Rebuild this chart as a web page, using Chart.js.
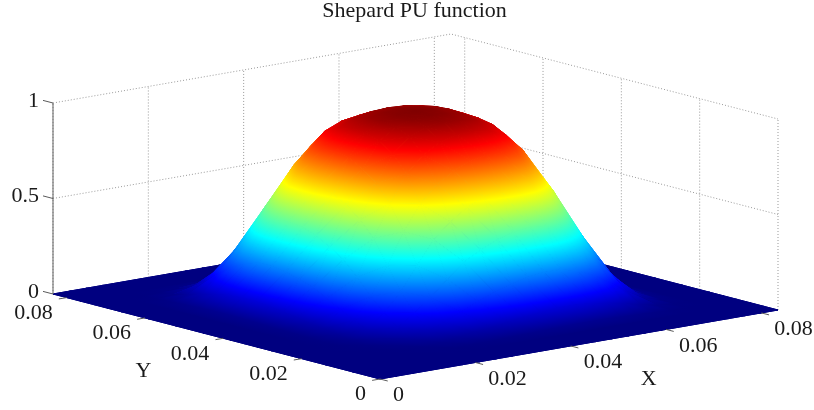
<!DOCTYPE html>
<html>
<head>
<meta charset="utf-8">
<style>
  html, body { margin: 0; padding: 0; background: #fff; }
  canvas { display: block; }
</style>
<script src="https://cdn.jsdelivr.net/npm/chart.js@4"></script>
</head>
<body>
<canvas id="surf" width="814" height="410"></canvas>
<script>
// axis ticks
var xTicks = [0, 0.02, 0.04, 0.06, 0.08];
var yTicks = [0, 0.02, 0.04, 0.06, 0.08];
var zTicks = [0, 0.5, 1];
var xTickLabels = ["0", "0.02", "0.04", "0.06", "0.08"];
var yTickLabels = ["0", "0.02", "0.04", "0.06", "0.08"];
var zTickLabels = ["0", "0.5", "1"];
var axisMax = 0.0835;

// surface nodes
var gridNodes = [0, 0.0035, 0.0070, 0.0104, 0.0139, 0.0174, 0.0209, 0.0244, 0.0278, 0.0313, 0.0348, 0.0383, 0.0418,
                 0.0452, 0.0487, 0.0522, 0.0557, 0.0592, 0.0626, 0.0661, 0.0696, 0.0731, 0.0766, 0.0800, 0.0835];
var zGrid = [
 [0,0,0,0,0,0,0,0,0,0,0,0,0,0,0,0,0,0,0,0,0,0,0,0,0],
 [0,0,0,0,0,0,0,0,0,0,0,0,0,0,0,0,0,0,0,0,0,0,0,0,0],
 [0,0,0,0,0,0,0,0,0,0,0,0,0,0,0,0,0,0,0,0,0,0,0,0,0],
 [0,0,0,0,0,0,.001,.001,.003,.005,.007,.009,.012,.014,.016,.016,.016,.013,.01,.006,.002,0,0,0,0],
 [0,0,0,0,0,.001,.004,.012,.023,.035,.045,.059,.071,.08,.086,.087,.081,.068,.05,.028,.01,.002,0,0,0],
 [0,0,0,0,.001,.006,.024,.053,.087,.122,.162,.199,.224,.244,.255,.255,.233,.193,.14,.078,.028,.006,0,0,0],
 [0,0,0,.001,.004,.024,.068,.128,.195,.277,.35,.398,.438,.463,.475,.465,.42,.345,.25,.14,.05,.01,0,0,0],
 [0,0,0,.001,.012,.053,.128,.221,.342,.463,.541,.602,.642,.666,.669,.649,.58,.476,.345,.193,.069,.014,0,0,0],
 [0,0,0,.003,.023,.087,.195,.342,.504,.632,.721,.777,.815,.828,.823,.79,.706,.58,.42,.235,.084,.017,0,0,0],
 [0,0,0,.005,.035,.122,.277,.463,.632,.774,.857,.907,.931,.935,.921,.884,.79,.649,.47,.263,.094,.019,0,0,0],
 [0,0,0,.007,.045,.162,.35,.541,.721,.857,.932,.965,.98,.975,.96,.921,.823,.676,.49,.274,.098,.02,0,0,0],
 [0,0,0,.009,.059,.199,.398,.602,.777,.907,.965,.99,.995,.99,.975,.935,.836,.687,.498,.279,.1,.02,0,0,0],
 [0,0,0,.012,.071,.224,.438,.642,.815,.931,.98,.995,1,.995,.98,.94,.84,.69,.5,.28,.1,.02,0,0,0],
 [0,0,0,.014,.08,.244,.463,.666,.828,.935,.975,.99,.995,.99,.975,.935,.836,.687,.498,.279,.1,.02,0,0,0],
 [0,0,0,.016,.086,.255,.475,.669,.823,.921,.96,.975,.98,.975,.96,.921,.823,.676,.49,.274,.098,.02,0,0,0],
 [0,0,0,.016,.087,.255,.465,.649,.79,.884,.921,.935,.94,.935,.921,.884,.79,.649,.47,.263,.094,.019,0,0,0],
 [0,0,0,.016,.081,.233,.42,.58,.706,.79,.823,.836,.84,.836,.823,.79,.706,.58,.42,.235,.084,.017,0,0,0],
 [0,0,0,.013,.068,.193,.345,.476,.58,.649,.676,.687,.69,.687,.676,.649,.58,.476,.345,.193,.069,.014,0,0,0],
 [0,0,0,.01,.05,.14,.25,.345,.42,.47,.49,.498,.5,.498,.49,.47,.42,.345,.25,.14,.05,.01,0,0,0],
 [0,0,0,.006,.028,.078,.14,.193,.235,.263,.274,.279,.28,.279,.274,.263,.235,.193,.14,.078,.028,.006,0,0,0],
 [0,0,0,.002,.01,.028,.05,.069,.084,.094,.098,.1,.1,.1,.098,.094,.084,.069,.05,.028,.01,.002,0,0,0],
 [0,0,0,0,.002,.006,.01,.014,.017,.019,.02,.02,.02,.02,.02,.019,.017,.014,.01,.006,.002,0,0,0,0],
 [0,0,0,0,0,0,0,0,0,0,0,0,0,0,0,0,0,0,0,0,0,0,0,0,0],
 [0,0,0,0,0,0,0,0,0,0,0,0,0,0,0,0,0,0,0,0,0,0,0,0,0],
 [0,0,0,0,0,0,0,0,0,0,0,0,0,0,0,0,0,0,0,0,0,0,0,0,0]
];

// jet colormap
var jetStops = [0, 0.125, 0.375, 0.625, 0.875, 1];
var jetColors = [[0,0,128], [0,0,255], [0,255,255], [255,255,0], [255,0,0], [128,0,0]];

// view of the box: where the origin sits and how each axis runs on the page
var titleH = 22, leftPad = 15;
var view = { ox: 380, oy: 379, xx: 398, xy: -69, yx: -327, yy: -85, zy: -191 };
var serif = '"Liberation Serif", "Times New Roman", serif';

function proj(x, y, z) {
    var a = x / axisMax, b = y / axisMax;
    return {
        x: view.ox + a * view.xx + b * view.yx,
        y: view.oy + a * view.xy + b * view.yy + z * view.zy
    };
}

function jet(z) {
    for (var i = 1; i < jetStops.length; i++) {
        if (z <= jetStops[i]) {
            var f = (z - jetStops[i - 1]) / (jetStops[i] - jetStops[i - 1]);
            var a = jetColors[i - 1], b = jetColors[i];
            return 'rgb(' + Math.round(a[0] + f * (b[0] - a[0])) + ',' + Math.round(a[1] + f * (b[1] - a[1])) + ',' + Math.round(a[2] + f * (b[2] - a[2])) + ')';
        }
    }
    return 'rgb(128,0,0)';
}

// z runs linearly over a triangle, so the colour is one straight gradient
function triPaint(ds, chart) {
    var sx = chart.scales.x, sy = chart.scales.y;
    var p = ds.data.slice(0, 3).map(function (d) { return [sx.getPixelForValue(d.x), sy.getPixelForValue(d.y)]; });
    var z = ds.zs;
    var det = (p[1][0] - p[0][0]) * (p[2][1] - p[0][1]) - (p[2][0] - p[0][0]) * (p[1][1] - p[0][1]);
    var gx = ((z[1] - z[0]) * (p[2][1] - p[0][1]) - (z[2] - z[0]) * (p[1][1] - p[0][1])) / det;
    var gy = ((p[1][0] - p[0][0]) * (z[2] - z[0]) - (p[2][0] - p[0][0]) * (z[1] - z[0])) / det;
    var g2 = gx * gx + gy * gy;
    var lo = Math.min(z[0], z[1], z[2]), hi = Math.max(z[0], z[1], z[2]);
    if (hi - lo < 0.0005 || !(g2 > 0)) return jet((lo + hi) / 2);
    var grad = chart.ctx.createLinearGradient(
        p[0][0] + gx * (lo - z[0]) / g2, p[0][1] + gy * (lo - z[0]) / g2,
        p[0][0] + gx * (hi - z[0]) / g2, p[0][1] + gy * (hi - z[0]) / g2);
    grad.addColorStop(0, jet(lo));
    jetStops.forEach(function (s) {
        if (s > lo && s < hi) grad.addColorStop((s - lo) / (hi - lo), jet(s));
    });
    grad.addColorStop(1, jet(hi));
    return grad;
}

function lineSet(points, color, dash, width) {
    return {
        data: points, showLine: true, fill: false, pointRadius: 0,
        borderColor: color, borderWidth: width || 1, borderDash: dash || [], tension: 0
    };
}

function triSet(a, b, c) {
    var n = gridNodes;
    return {
        data: [a, b, c, a].map(function (q) { return proj(n[q[0]], n[q[1]], zGrid[q[1]][q[0]]); }),
        zs: [a, b, c].map(function (q) { return zGrid[q[1]][q[0]]; }),
        isTri: true,
        showLine: true, fill: 'shape', pointRadius: 0, tension: 0,
        backgroundColor: '#000080', borderColor: '#000080', borderWidth: 1, borderJoinStyle: 'round'
    };
}

// Chart.js paints the last dataset first: axes up front, then surface, then walls
var datasets = [];
var axisCol = '#5a5a5a', gridCol = '#999999', dots = [1, 2];

// tick marks and solid axes
xTicks.forEach(function (t) {
    datasets.push(lineSet([proj(t, 0, 0), proj(t, -8 * axisMax / 338, 0)], axisCol));
});
yTicks.forEach(function (t) {
    datasets.push(lineSet([proj(0, t, 0), proj(-8 * axisMax / 404, t, 0)], axisCol));
});
zTicks.forEach(function (t) {
    datasets.push(lineSet([proj(0, axisMax, t), proj(0, axisMax + 10 * axisMax / 327, t)], axisCol));
});
datasets.push(lineSet([proj(0, axisMax, 0), proj(0, axisMax, 1)], '#777777', [], 1.2));

// surface, front cells first
for (var sum = 0; sum <= 2 * (gridNodes.length - 2); sum++) {
    for (var i = 0; i < gridNodes.length - 1; i++) {
        var j = sum - i;
        if (j < 0 || j >= gridNodes.length - 1) continue;
        datasets.push(triSet([i, j], [i + 1, j], [i, j + 1]));
        datasets.push(triSet([i + 1, j + 1], [i, j + 1], [i + 1, j]));
    }
}

// navy floor under the triangles so their seams do not let the white through
datasets.push({
    data: [proj(0, 0, 0), proj(axisMax, 0, 0), proj(axisMax, axisMax, 0), proj(0, axisMax, 0), proj(0, 0, 0)],
    showLine: true, fill: 'shape', pointRadius: 0, tension: 0,
    backgroundColor: '#000080', borderColor: '#000080', borderWidth: 1
});

// walls
xTicks.forEach(function (t) {
    datasets.push(lineSet([proj(t, axisMax, 0), proj(t, axisMax, 1)], gridCol, dots));
});
yTicks.forEach(function (t) {
    datasets.push(lineSet([proj(axisMax, t, 0), proj(axisMax, t, 1)], gridCol, dots));
});
zTicks.slice(1).forEach(function (t) {
    datasets.push(lineSet([proj(0, axisMax, t), proj(axisMax, axisMax, t), proj(axisMax, 0, t)], gridCol, dots));
});

var surfPaint = {
    id: 'surfPaint',
    // scales are only placed once the layout is done, so paint the triangles here
    beforeDatasetsDraw: function (chart) {
        chart.data.datasets.forEach(function (ds, k) {
            if (!ds.isTri) return;
            var paint = triPaint(ds, chart);
            var line = chart.getDatasetMeta(k).dataset;
            line.options.backgroundColor = paint;
            line.options.borderColor = paint;
        });
    }
};

var tickText = {
    id: 'tickText',
    afterDraw: function (chart) {
        var c = chart.ctx, sx = chart.scales.x, sy = chart.scales.y;
        function put(txt, p, dx, dy, align) {
            c.textAlign = align;
            c.fillText(txt, sx.getPixelForValue(p.x) + dx, sy.getPixelForValue(p.y) + dy);
        }
        c.save();
        c.font = '22px ' + serif;
        c.fillStyle = '#1a1a1a';
        c.textBaseline = 'middle';
        xTicks.forEach(function (t, i) { put(xTickLabels[i], proj(t, 0, 0), 13, 16.5, 'left'); });
        yTicks.forEach(function (t, i) { put(yTickLabels[i], proj(0, t, 0), -14, 15.5, 'right'); });
        zTicks.forEach(function (t, i) { put(zTickLabels[i], proj(0, axisMax, t), -14, -2, 'right'); });
        put('X', proj(0.04, 0, 0), 78, 33, 'center');
        put('Y', proj(0, 0.04, 0), -80, 33, 'center');
        c.restore();
    }
};

var surfChart = new Chart(document.getElementById('surf').getContext('2d'), {
    type: 'scatter',
    data: { datasets: datasets },
    plugins: [surfPaint, tickText],
    options: {
        responsive: false,
        animation: false,
        events: [],
        layout: { padding: { left: leftPad, right: 0, top: 0, bottom: 0 } },
        plugins: {
            legend: { display: false },
            tooltip: { enabled: false },
            title: {
                display: true,
                text: 'Shepard PU function',
                fullSize: false,
                color: '#1a1a1a',
                padding: 0,
                font: { family: serif, size: 22, weight: 'normal', lineHeight: 1 }
            }
        },
        scales: {
            x: { type: 'linear', display: false, min: leftPad, max: 814 },
            y: { type: 'linear', display: false, reverse: true, min: titleH, max: 410 }
        }
    }
});
</script>
</body>
</html>
